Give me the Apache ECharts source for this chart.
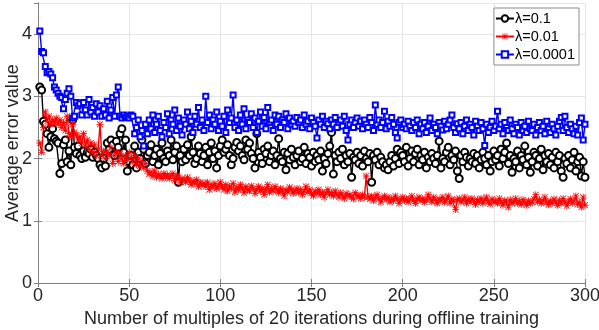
<!DOCTYPE html>
<html>
<head>
<meta charset="utf-8">
<script src="https://cdn.jsdelivr.net/npm/echarts@6/dist/echarts.min.js"></script>
<style>
  html, body { margin: 0; padding: 0; background: #fff; }
  #chart { width: 599px; height: 330px; }
</style>
</head>
<body>
<div id="chart"></div>
<script>
// Average error per multiple of 20 iterations
const lambda01 = [
  3.15, 3.10, 2.60, 2.55, 2.40, 2.18, 2.35, 2.48, 2.32, 2.28,
  2.25, 1.76, 1.92, 2.22, 2.30, 1.95, 2.12, 1.90, 2.62, 2.18,
  2.08, 2.20, 2.05, 2.00, 2.12, 2.02, 2.10, 2.08, 2.15, 2.02,
  2.10, 2.05, 2.00, 1.90, 1.85, 2.00, 1.88, 2.25, 2.15, 2.30,
  2.22, 2.05, 2.28, 2.18, 2.40, 2.48, 2.10, 2.30, 1.80, 1.95,
  2.05, 1.90, 2.20, 1.85, 2.10, 2.00, 2.30, 2.15, 1.92, 2.05,
  2.10, 2.22, 1.95, 2.05, 2.15, 1.90, 2.08, 2.25, 2.00, 1.95,
  2.12, 2.05, 2.30, 1.98, 2.10, 2.20, 1.62, 2.05, 1.95, 2.15,
  1.98, 2.22, 2.05, 2.35, 2.10, 1.92, 2.00, 2.20, 2.08, 1.95,
  2.05, 2.18, 1.90, 2.10, 2.25, 2.00, 2.12, 1.85, 2.05, 2.20,
  2.30, 2.10, 2.15, 2.22, 2.05, 1.90, 2.00, 2.18, 2.26, 2.12,
  2.20, 2.05, 1.98, 2.30, 2.15, 2.25, 2.08, 2.00, 1.85, 2.40,
  2.10, 2.02, 1.92, 2.15, 2.08, 2.20, 1.95, 2.05, 2.12, 1.90,
  2.05, 2.32, 2.00, 1.95, 2.10, 1.82, 2.08, 1.98, 2.15, 2.02,
  1.90, 2.05, 2.12, 1.95, 2.00, 2.18, 1.92, 2.08, 2.02, 1.88,
  2.10, 1.95, 2.05, 1.98, 2.12, 1.80, 2.00, 1.92, 2.08, 2.20,
  2.42, 1.75, 2.05, 1.95, 2.10, 2.00, 2.15, 1.90, 2.05, 1.95,
  2.08, 1.70, 2.02, 1.98, 2.10, 1.92, 2.05, 1.88, 2.12, 2.00,
  1.95, 2.08, 1.62, 2.05, 1.98, 2.10, 1.90, 2.02, 1.95, 1.85,
  1.90, 1.82, 1.95, 2.05, 1.88, 2.00, 2.15, 1.92, 2.10, 2.05,
  1.95, 2.18, 1.88, 2.00, 2.12, 1.95, 2.08, 2.15, 1.90, 2.05,
  1.98, 2.10, 1.85, 2.02, 1.95, 2.08, 2.00, 1.92, 2.05, 2.28,
  1.85, 2.00, 1.95, 2.10, 2.18, 1.90, 2.05, 1.98, 2.12, 1.80,
  1.68, 2.05, 1.95, 2.10, 2.02, 1.88, 2.00, 1.95, 2.08, 1.92,
  2.05, 1.85, 1.98, 2.10, 2.00, 1.90, 2.05, 1.80, 1.95, 2.12,
  1.98, 2.05, 1.88, 2.15, 2.00, 2.10, 2.25, 1.92, 2.05, 1.78,
  2.00, 1.95, 2.12, 1.85, 2.05, 1.98, 2.20, 1.90, 2.02, 1.78,
  1.95, 2.10, 2.05, 1.88, 2.00, 2.15, 1.82, 2.05, 1.95, 2.08,
  1.90, 2.02, 1.85, 2.10, 1.95, 2.05, 1.80, 1.70, 2.00, 1.92,
  2.05, 1.85, 1.98, 2.10, 1.80, 1.95, 2.02, 1.72, 1.95, 1.70
];

const lambda001 = [
  2.25, 2.10, 2.50, 2.75, 2.60, 2.68, 2.55, 2.62, 2.58, 2.65,
  2.55, 2.62, 2.50, 2.58, 2.45, 2.68, 2.40, 2.35, 2.55, 2.42,
  2.38, 2.30, 2.35, 2.25, 2.40, 2.20, 2.30, 2.15, 2.25, 2.10,
  2.22, 2.05, 2.15, 2.55, 2.05, 2.12, 2.00, 2.10, 2.05, 2.18,
  1.92, 2.05, 2.10, 1.95, 2.08, 2.00, 1.92, 2.05, 1.98, 2.10,
  2.02, 1.95, 2.05, 1.90, 2.00, 1.88, 1.95, 1.85, 1.92, 1.80,
  1.75, 1.78, 1.72, 1.80, 1.70, 1.75, 1.72, 1.68, 1.76, 1.70,
  1.74, 1.68, 1.72, 1.76, 1.65, 1.72, 1.70, 1.62, 1.68, 1.66,
  1.62, 1.70, 1.65, 1.58, 1.64, 1.60, 1.66, 1.55, 1.62, 1.58,
  1.60, 1.55, 1.62, 1.50, 1.58, 1.54, 1.60, 1.52, 1.56, 1.62,
  1.55, 1.50, 1.58, 1.48, 1.55, 1.52, 1.60, 1.46, 1.54, 1.50,
  1.58, 1.52, 1.45, 1.55, 1.50, 1.48, 1.56, 1.52, 1.44, 1.50,
  1.55, 1.48, 1.52, 1.42, 1.50, 1.58, 1.46, 1.52, 1.48, 1.55,
  1.50, 1.45, 1.52, 1.48, 1.40, 1.50, 1.46, 1.54, 1.50, 1.44,
  1.48, 1.52, 1.45, 1.50, 1.42, 1.48, 1.55, 1.46, 1.50, 1.44,
  1.40, 1.48, 1.44, 1.50, 1.42, 1.46, 1.38, 1.45, 1.50, 1.42,
  1.45, 1.40, 1.48, 1.42, 1.38, 1.45, 1.40, 1.36, 1.44, 1.40,
  1.42, 1.38, 1.35, 1.45, 1.40, 1.40, 1.36, 1.42, 1.38, 1.72,
  1.38, 1.35, 1.40, 1.32, 1.38, 1.42, 1.35, 1.30, 1.36, 1.40,
  1.34, 1.38, 1.30, 1.36, 1.32, 1.40, 1.35, 1.28, 1.34, 1.38,
  1.32, 1.36, 1.30, 1.35, 1.40, 1.33, 1.28, 1.35, 1.38, 1.32,
  1.36, 1.30, 1.34, 1.42, 1.35, 1.30, 1.38, 1.33, 1.28, 1.35,
  1.32, 1.38, 1.30, 1.34, 1.40, 1.28, 1.35, 1.32, 1.18, 1.34,
  1.36, 1.30, 1.33, 1.38, 1.28, 1.35, 1.30, 1.36, 1.32, 1.26,
  1.34, 1.30, 1.36, 1.28, 1.33, 1.38, 1.30, 1.27, 1.35, 1.30,
  1.32, 1.28, 1.36, 1.30, 1.25, 1.33, 1.30, 1.22, 1.34, 1.28,
  1.30, 1.36, 1.28, 1.32, 1.26, 1.34, 1.30, 1.25, 1.32, 1.28,
  1.30, 1.35, 1.42, 1.30, 1.34, 1.28, 1.32, 1.38, 1.30, 1.26,
  1.32, 1.28, 1.35, 1.30, 1.25, 1.33, 1.28, 1.36, 1.30, 1.24,
  1.30, 1.35, 1.28, 1.32, 1.40, 1.26, 1.30, 1.22, 1.38, 1.25
];

const lambda00001 = [
  4.05, 3.72, 3.70, 3.48, 3.38, 3.40, 3.36, 3.30, 3.15, 3.10,
  3.05, 3.00, 2.98, 2.80, 2.95, 3.05, 3.12, 3.00, 2.65, 2.68,
  2.90, 2.85, 2.88, 2.70, 2.90, 2.78, 2.70, 2.95, 2.75, 2.82,
  2.68, 2.88, 2.75, 2.85, 2.68, 2.80, 2.70, 2.92, 2.65, 2.78,
  2.98, 2.68, 3.02, 3.15, 2.68, 2.65, 2.70, 2.66, 2.68, 2.65,
  2.70, 2.68, 2.40, 2.50, 2.62, 2.35, 2.45, 2.20, 2.55, 2.40,
  2.62, 2.48, 2.70, 2.42, 2.55, 2.68, 2.45, 2.35, 2.58, 2.50,
  2.72, 2.40, 2.62, 2.55, 2.78, 2.45, 2.65, 2.52, 2.38, 2.62,
  2.55, 2.75, 2.48, 2.60, 2.42, 2.68, 2.55, 2.82, 2.50, 2.62,
  2.45, 3.00, 2.58, 2.70, 2.48, 2.62, 2.55, 2.75, 2.45, 2.60,
  2.52, 2.68, 2.42, 2.78, 2.58, 2.65, 3.02, 2.50, 2.62, 2.45,
  2.70, 2.55, 2.80, 2.48, 2.62, 2.58, 2.72, 2.50, 2.65, 2.42,
  2.60, 2.75, 2.52, 2.66, 2.48, 2.82, 2.58, 2.62, 2.45, 2.70,
  2.55, 2.68, 2.50, 2.62, 2.58, 2.72, 2.48, 2.65, 2.55, 2.60,
  2.52, 2.66, 2.58, 2.62, 2.50, 2.70, 2.55, 2.60, 2.48, 2.65,
  2.58, 2.52, 2.33, 2.62, 2.55, 2.68, 2.50, 2.60, 2.56, 2.48,
  2.62, 2.55, 2.66, 2.50, 2.58, 2.62, 2.52, 2.68, 2.45, 2.30,
  2.55, 2.62, 2.50, 2.58, 2.65, 2.52, 2.60, 2.48, 2.62, 2.55,
  2.50, 2.66, 2.58, 2.45, 2.86, 2.55, 2.62, 2.50, 2.58, 2.76,
  2.48, 2.60, 2.52, 2.66, 2.55, 2.42, 2.33, 2.58, 2.62, 2.50,
  2.55, 2.48, 2.60, 2.52, 2.45, 2.58, 2.50, 2.62, 2.40, 2.55,
  2.48, 2.58, 2.42, 2.52, 2.65, 2.45, 2.55, 2.50, 2.40, 2.58,
  2.52, 2.46, 2.60, 2.48, 2.55, 2.62, 2.70, 2.50, 2.42, 2.56,
  2.48, 2.58, 2.40, 2.52, 2.62, 2.45, 2.55, 2.50, 2.38, 2.60,
  2.52, 2.45, 2.58, 2.48, 2.21, 2.55, 2.42, 2.50, 2.60, 2.45,
  2.52, 2.76, 2.48, 2.55, 2.40, 2.58, 2.50, 2.45, 2.62, 2.48,
  2.40, 2.55, 2.50, 2.38, 2.58, 2.45, 2.52, 2.42, 2.60, 2.48,
  2.45, 2.55, 2.38, 2.50, 2.58, 2.45, 2.52, 2.40, 2.60, 2.48,
  2.42, 2.55, 2.48, 2.38, 2.52, 2.60, 2.66, 2.45, 2.68, 2.50,
  2.42, 2.55, 2.48, 2.40, 2.52, 2.38, 2.58, 2.65, 2.30, 2.55
];

const seriesNames = ['λ=0.1', 'λ=0.01', 'λ=0.0001'];

// asterisk marker built from thin filled bars
const asterisk = 'path://M4.4,0h1.2v10h-1.2z M0,4.4h10v1.2h-10z M1.2,0.4l8.4,8.4l-0.8,0.8l-8.4,-8.4z M8.8,0.4l0.8,0.8l-8.4,8.4l-0.8,-0.8z';

const toPoints = arr => arr.map((v, i) => [i + 1, v]);

const chart = echarts.init(document.getElementById('chart'));
const fontFamily = '"Liberation Sans", Arial, sans-serif';
const axisColor = '#808080';
const textColor = '#262626';

// MATLAB-style box: plain copies of the axes on top and right, ticks only
const boxX = {
  type: 'value', min: 0, max: 300, interval: 50, position: 'top',
  axisLine: { lineStyle: { color: axisColor } },
  axisTick: { inside: true, length: 4, lineStyle: { color: axisColor } },
  axisLabel: { show: false },
  splitLine: { show: false }
};
const boxY = {
  type: 'value', min: 0, max: 4.5, interval: 1, position: 'right',
  axisLine: { show: true, lineStyle: { color: axisColor } },
  axisTick: { show: true, inside: true, length: 4, lineStyle: { color: axisColor } },
  axisLabel: { show: false },
  splitLine: { show: false }
};

const option = {
  animation: false,
  backgroundColor: '#fff',
  textStyle: { fontFamily: fontFamily },
  grid: { left: 38, right: 14, top: 3, bottom: 47, containLabel: false, outerBoundsMode: 'none' },
  legend: {
    right: 20,
    top: 8,
    orient: 'vertical',
    backgroundColor: '#fff',
    borderColor: '#8a8a8a',
    borderWidth: 1,
    borderRadius: 0,
    padding: [3, 4, 3, 1],
    itemGap: 3,
    itemWidth: 18,
    itemHeight: 8,
    textStyle: { fontSize: 14.5, color: '#000', fontFamily: fontFamily, padding: [0, 0, 0, -4] },
    data: seriesNames
  },
  xAxis: [{
    type: 'value',
    min: 0,
    max: 300,
    interval: 50,
    name: 'Number of multiples of 20 iterations during offline training',
    nameLocation: 'middle',
    nameGap: 24,
    nameTextStyle: { fontSize: 18, color: textColor },
    axisLine: { lineStyle: { color: axisColor } },
    axisTick: { inside: true, length: 4, lineStyle: { color: axisColor } },
    axisLabel: { fontSize: 18, color: textColor, margin: 4 },
    splitLine: { show: true, lineStyle: { color: '#e5e5e5' } }
  }, boxX],
  yAxis: [{
    type: 'value',
    min: 0,
    max: 4.5,
    interval: 1,
    name: 'Average error value',
    nameLocation: 'middle',
    nameGap: 16,
    nameMoveOverlap: false,
    nameTextStyle: { fontSize: 18, color: textColor },
    axisLine: { show: true, lineStyle: { color: axisColor } },
    axisTick: { show: true, inside: true, length: 4, lineStyle: { color: axisColor } },
    axisLabel: { fontSize: 18, color: textColor, margin: 6, showMaxLabel: false },
    splitLine: { show: true, lineStyle: { color: '#e5e5e5' } }
  }, boxY],
  series: [
    {
      name: seriesNames[0],
      type: 'line',
      data: toPoints(lambda01),
      symbol: 'emptyCircle',
      symbolSize: 7,
      showAllSymbol: true,
      lineStyle: { color: '#000', width: 1.4 },
      itemStyle: { color: '#000', borderWidth: 1.4 }
    },
    {
      name: seriesNames[1],
      type: 'line',
      data: toPoints(lambda001),
      symbol: asterisk,
      symbolSize: 7,
      showAllSymbol: true,
      lineStyle: { color: '#ff0000', width: 1.4 },
      itemStyle: { color: '#ff0000' }
    },
    {
      name: seriesNames[2],
      type: 'line',
      data: toPoints(lambda00001),
      symbol: 'emptyRect',
      symbolSize: 5,
      showAllSymbol: true,
      lineStyle: { color: '#0000ff', width: 1.4 },
      itemStyle: { color: '#0000ff', borderWidth: 1.4 }
    }
  ]
};

chart.setOption(option);
window.addEventListener('resize', () => chart.resize());
</script>
</body>
</html>
